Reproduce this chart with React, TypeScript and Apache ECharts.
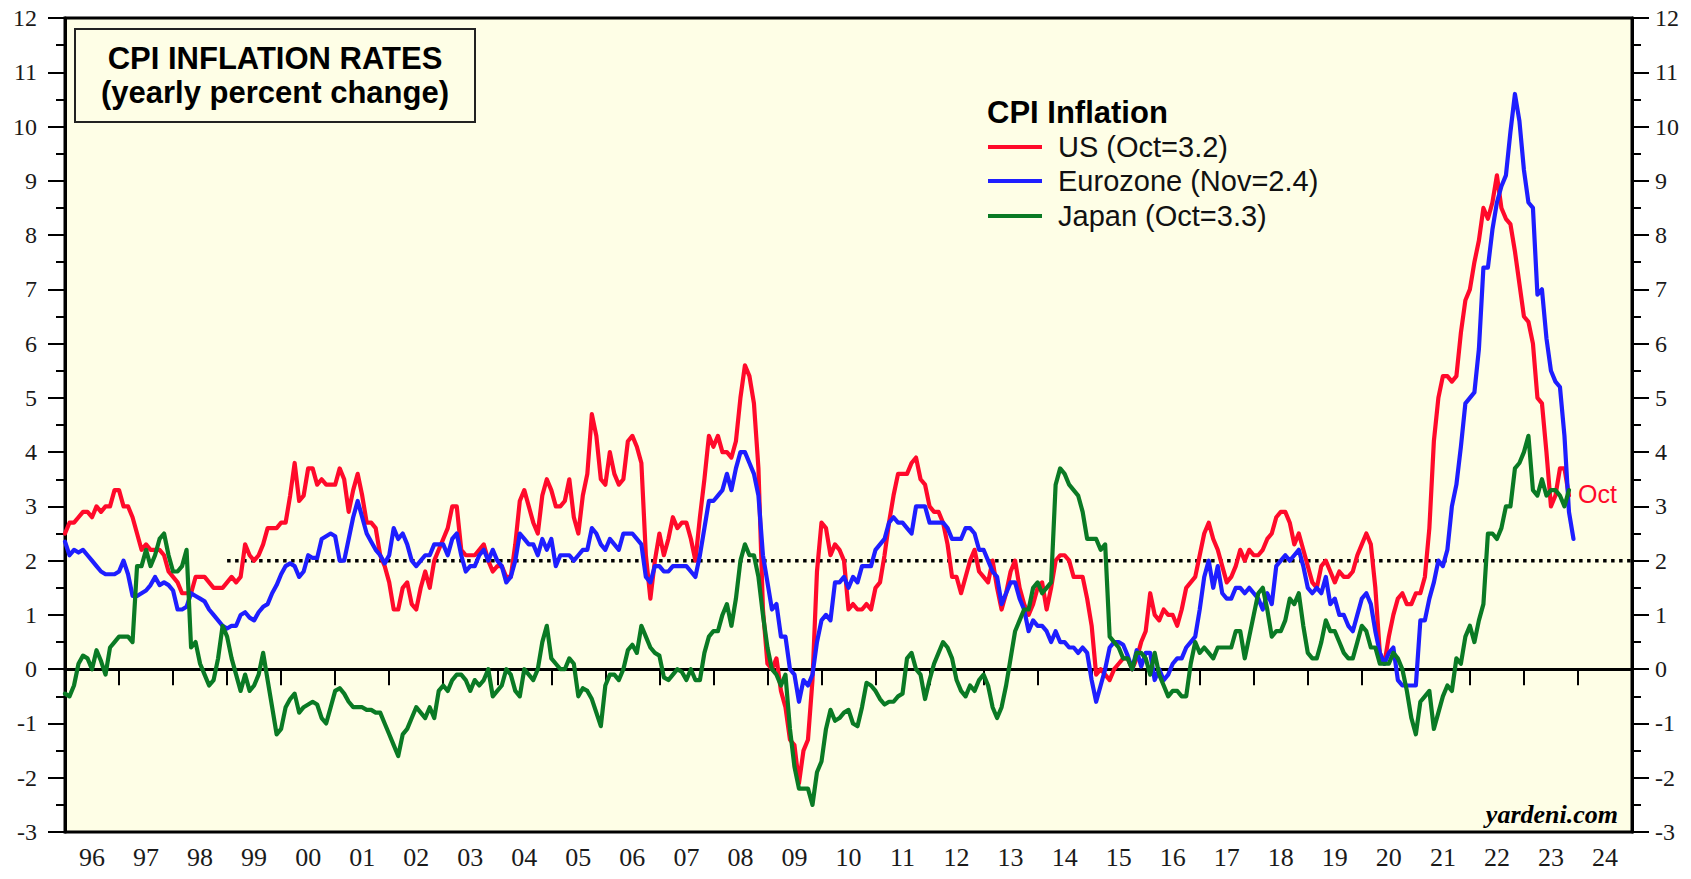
import React, { useEffect, useRef } from "react";
import * as echarts from "echarts";

// Monthly yearly % change; first value = Dec 1995, plotted at month end
const START_X = 1996;

const yearLabels = ["96","97","98","99","00","01","02","03","04","05","06","07","08","09","10","11","12","13","14","15","16","17","18","19","20","21","22","23","24"];

const usCpi = [
  2.5,
  2.7, 2.7, 2.8, 2.9, 2.9, 2.8, 3.0, 2.9, 3.0, 3.0, 3.3, 3.3,
  3.0, 3.0, 2.8, 2.5, 2.2, 2.3, 2.2, 2.2, 2.2, 2.1, 1.8, 1.7,
  1.6, 1.4, 1.4, 1.4, 1.7, 1.7, 1.7, 1.6, 1.5, 1.5, 1.5, 1.6,
  1.7, 1.6, 1.7, 2.3, 2.1, 2.0, 2.1, 2.3, 2.6, 2.6, 2.6, 2.7,
  2.7, 3.2, 3.8, 3.1, 3.2, 3.7, 3.7, 3.4, 3.5, 3.4, 3.4, 3.4,
  3.7, 3.5, 2.9, 3.3, 3.6, 3.2, 2.7, 2.7, 2.6, 2.1, 1.9, 1.6,
  1.1, 1.1, 1.5, 1.6, 1.2, 1.1, 1.5, 1.8, 1.5, 2.0, 2.2, 2.4,
  2.6, 3.0, 3.0, 2.2, 2.1, 2.1, 2.1, 2.2, 2.3, 2.0, 1.8, 1.9,
  1.9, 1.7, 1.7, 2.3, 3.1, 3.3, 3.0, 2.7, 2.5, 3.2, 3.5, 3.3,
  3.0, 3.0, 3.1, 3.5, 2.8, 2.5, 3.2, 3.6, 4.7, 4.3, 3.5, 3.4,
  4.0, 3.6, 3.4, 3.5, 4.2, 4.3, 4.1, 3.8, 2.1, 1.3, 2.0, 2.5,
  2.1, 2.4, 2.8, 2.6, 2.7, 2.7, 2.4, 2.0, 2.8, 3.5, 4.3, 4.1,
  4.3, 4.0, 4.0, 3.9, 4.2, 5.0, 5.6, 5.4, 4.9, 3.7, 1.1, 0.1,
  0.0, 0.2, -0.4, -0.7, -1.3, -1.4, -2.1, -1.5, -1.3, -0.2, 1.8, 2.7,
  2.6, 2.1, 2.3, 2.2, 2.0, 1.1, 1.2, 1.1, 1.1, 1.2, 1.1, 1.5,
  1.6, 2.1, 2.7, 3.2, 3.6, 3.6, 3.6, 3.8, 3.9, 3.5, 3.4, 3.0,
  2.9, 2.9, 2.7, 2.3, 1.7, 1.7, 1.4, 1.7, 2.0, 2.2, 1.8, 1.7,
  1.6, 2.0, 1.5, 1.1, 1.4, 1.8, 2.0, 1.5, 1.2, 1.0, 1.2, 1.5,
  1.6, 1.1, 1.5, 2.0, 2.1, 2.1, 2.0, 1.7, 1.7, 1.7, 1.3, 0.8,
  -0.1, 0.0, -0.1, -0.2, 0.0, 0.1, 0.2, 0.2, 0.0, 0.2, 0.5, 0.7,
  1.4, 1.0, 0.9, 1.1, 1.0, 1.0, 0.8, 1.1, 1.5, 1.6, 1.7, 2.1,
  2.5, 2.7, 2.4, 2.2, 1.9, 1.6, 1.7, 1.9, 2.2, 2.0, 2.2, 2.1,
  2.1, 2.2, 2.4, 2.5, 2.8, 2.9, 2.9, 2.7, 2.3, 2.5, 2.2, 1.9,
  1.6, 1.5, 1.9, 2.0, 1.8, 1.6, 1.8, 1.7, 1.7, 1.8, 2.1, 2.3,
  2.5, 2.3, 1.5, 0.3, 0.1, 0.6, 1.0, 1.3, 1.4, 1.2, 1.2, 1.4,
  1.4, 1.7, 2.6, 4.2, 5.0, 5.4, 5.4, 5.3, 5.4, 6.2, 6.8, 7.0,
  7.5, 7.9, 8.5, 8.3, 8.6, 9.1, 8.5, 8.3, 8.2, 7.7, 7.1, 6.5,
  6.4, 6.0, 5.0, 4.9, 4.0, 3.0, 3.2, 3.7, 3.7, 3.2,
];

const ezCpi = [
  2.35,
  2.1, 2.2, 2.15, 2.2, 2.1, 2.0, 1.9, 1.8, 1.75, 1.75, 1.75, 1.8,
  2.0, 1.75, 1.35, 1.35, 1.4, 1.45, 1.55, 1.7, 1.55, 1.6, 1.55, 1.45,
  1.1, 1.1, 1.15, 1.4, 1.35, 1.3, 1.25, 1.1, 1.0, 0.9, 0.8, 0.75,
  0.8, 0.8, 1.0, 1.05, 0.95, 0.9, 1.05, 1.15, 1.2, 1.4, 1.55, 1.75,
  1.9, 1.95, 1.9, 1.7, 1.8, 2.1, 2.05, 2.05, 2.4, 2.45, 2.5, 2.45,
  2.0, 2.0, 2.4, 2.8, 3.1, 2.8, 2.5, 2.35, 2.2, 2.1, 1.95, 2.1,
  2.6, 2.4, 2.5, 2.3, 2.0, 1.9, 2.0, 2.1, 2.1, 2.3, 2.3, 2.3,
  2.1, 2.4, 2.5, 2.1, 1.8, 1.9, 1.9, 2.1, 2.2, 2.0, 2.2, 2.0,
  1.9, 1.6, 1.7, 2.0, 2.5, 2.4, 2.3, 2.3, 2.1, 2.4, 2.2, 2.4,
  1.9, 2.1, 2.1, 2.1, 2.0, 2.1, 2.2, 2.2, 2.6, 2.5, 2.3, 2.2,
  2.4, 2.3, 2.2, 2.5, 2.5, 2.5, 2.4, 2.3, 1.7, 1.6, 1.9, 1.9,
  1.8, 1.8, 1.9, 1.9, 1.9, 1.9, 1.8, 1.7, 2.1, 2.6, 3.1, 3.1,
  3.2, 3.3, 3.6, 3.3, 3.7, 4.0, 4.0, 3.8, 3.6, 3.2, 2.1, 1.6,
  1.1, 1.2, 0.6, 0.6, 0.0, -0.1, -0.6, -0.2, -0.3, -0.1, 0.5, 0.9,
  1.0, 0.9, 1.6, 1.6, 1.7, 1.5, 1.7, 1.6, 1.9, 1.9, 1.9, 2.2,
  2.3, 2.4, 2.7, 2.8, 2.7, 2.7, 2.6, 2.5, 3.0, 3.0, 3.0, 2.7,
  2.7, 2.7, 2.7, 2.6, 2.4, 2.4, 2.4, 2.6, 2.6, 2.5, 2.2, 2.2,
  2.0, 1.8, 1.7, 1.2, 1.4, 1.6, 1.6, 1.3, 1.1, 0.7, 0.9, 0.8,
  0.8, 0.7, 0.5, 0.7, 0.5, 0.5, 0.4, 0.4, 0.3, 0.4, 0.3, -0.2,
  -0.6, -0.3, 0.0, 0.4, 0.5, 0.5, 0.45, 0.25, 0.0, 0.35, 0.05, 0.3,
  0.3, -0.2, 0.0, -0.2, -0.1, 0.1, 0.2, 0.2, 0.4, 0.5, 0.6, 1.1,
  1.7, 2.0, 1.5, 1.9, 1.4, 1.3, 1.3, 1.5, 1.5, 1.4, 1.5, 1.4,
  1.3, 1.1, 1.4, 1.2, 1.9, 2.0, 2.1, 2.0, 2.1, 2.2, 1.9, 1.5,
  1.4, 1.5, 1.4, 1.7, 1.2, 1.3, 1.0, 1.0, 0.8, 0.7, 1.0, 1.3,
  1.4, 1.2, 0.7, 0.3, 0.1, 0.3, 0.4, -0.2, -0.3, -0.3, -0.3, -0.3,
  0.9, 0.9, 1.3, 1.6, 2.0, 1.9, 2.2, 3.0, 3.4, 4.1, 4.9, 5.0,
  5.1, 5.9, 7.4, 7.4, 8.1, 8.6, 8.9, 9.1, 9.9, 10.6, 10.1, 9.2,
  8.6, 8.5, 6.9, 7.0, 6.1, 5.5, 5.3, 5.2, 4.3, 2.9, 2.4,
];

const jpCpi = [
  -0.45,
  -0.5, -0.3, 0.1, 0.25, 0.2, 0.0, 0.35, 0.15, -0.1, 0.4, 0.5, 0.6,
  0.6, 0.6, 0.5, 1.9, 1.9, 2.2, 1.9, 2.1, 2.4, 2.5, 2.1, 1.8,
  1.8, 1.9, 2.2, 0.4, 0.5, 0.1, -0.1, -0.3, -0.2, 0.2, 0.8, 0.6,
  0.2, -0.1, -0.4, -0.1, -0.4, -0.3, -0.1, 0.3, -0.2, -0.7, -1.2, -1.1,
  -0.7, -0.55, -0.45, -0.8, -0.7, -0.65, -0.6, -0.65, -0.9, -1.0, -0.7, -0.4,
  -0.35, -0.45, -0.6, -0.7, -0.7, -0.7, -0.75, -0.75, -0.8, -0.8, -1.0, -1.2,
  -1.4, -1.6, -1.2, -1.1, -0.9, -0.7, -0.8, -0.9, -0.7, -0.9, -0.4, -0.3,
  -0.4, -0.2, -0.1, -0.1, -0.2, -0.4, -0.2, -0.3, -0.2, 0.0, -0.5, -0.4,
  -0.3, 0.0, -0.1, -0.4, -0.5, 0.0, -0.1, -0.2, 0.0, 0.5, 0.8, 0.2,
  0.1, 0.0, 0.0, 0.2, 0.1, -0.5, -0.35, -0.4, -0.55, -0.8, -1.05, -0.3,
  -0.1, -0.1, -0.2, 0.0, 0.35, 0.45, 0.3, 0.8, 0.6, 0.4, 0.3, 0.25,
  -0.15, -0.2, -0.1, 0.0, -0.05, -0.2, 0.0, -0.2, -0.2, 0.3, 0.6, 0.7,
  0.7, 1.0, 1.2, 0.8, 1.3, 2.0, 2.3, 2.1, 2.1, 1.7, 1.0, 0.4,
  0.0, -0.1, -0.3, -0.1, -1.1, -1.8, -2.2, -2.2, -2.2, -2.5, -1.9, -1.7,
  -1.1, -0.75, -0.95, -0.9, -0.8, -0.75, -1.0, -1.05, -0.7, -0.25, -0.3, -0.4,
  -0.55, -0.65, -0.6, -0.6, -0.5, -0.45, 0.2, 0.3, 0.0, -0.1, -0.55, -0.2,
  0.1, 0.3, 0.5, 0.4, 0.2, -0.2, -0.4, -0.5, -0.3, -0.4, -0.2, -0.1,
  -0.3, -0.7, -0.9, -0.7, -0.3, 0.2, 0.7, 0.9, 1.1, 1.1, 1.5, 1.6,
  1.4, 1.5, 1.6, 3.4, 3.7, 3.6, 3.4, 3.3, 3.2, 2.9, 2.4, 2.4,
  2.4, 2.2, 2.3, 0.6, 0.5, 0.4, 0.2, 0.2, 0.0, 0.3, 0.3, 0.2,
  -0.1, 0.3, -0.1, -0.3, -0.5, -0.4, -0.4, -0.5, -0.5, 0.1, 0.5, 0.3,
  0.4, 0.3, 0.2, 0.4, 0.4, 0.4, 0.4, 0.7, 0.7, 0.2, 0.6, 1.0,
  1.4, 1.5, 1.1, 0.6, 0.7, 0.7, 0.9, 1.3, 1.2, 1.4, 0.8, 0.3,
  0.2, 0.2, 0.5, 0.9, 0.7, 0.7, 0.5, 0.3, 0.2, 0.2, 0.5, 0.8,
  0.7, 0.4, 0.4, 0.1, 0.1, 0.1, 0.3, 0.2, 0.0, -0.4, -0.9, -1.2,
  -0.6, -0.5, -0.4, -1.1, -0.8, -0.5, -0.3, -0.4, 0.2, 0.1, 0.6, 0.8,
  0.5, 0.9, 1.2, 2.5, 2.5, 2.4, 2.6, 3.0, 3.0, 3.7, 3.8, 4.0,
  4.3, 3.3, 3.2, 3.5, 3.2, 3.3, 3.3, 3.2, 3.0, 3.3,
];

const targetLine = [[1999, 2], [2025, 2]];
const zeroLine = [[1996, 0], [2025, 0]];

const seriesNames = ["US (Oct=3.2)", "Eurozone (Nov=2.4)", "Japan (Oct=3.3)"];

const RED = "#ff0a2a";
const BLUE = "#1e1eff";
const GREEN = "#0a7a24";
const BG = "#fefee6";
const SANS = '"Liberation Sans", Arial, sans-serif';
const SERIF = '"Liberation Serif", "Times New Roman", serif';

const toPoints = (vals: number[]) => vals.map((v, i) => [START_X + i / 12, v]);

function txt(x: number, y: number, text: string, font: string, fill: string, align = "left") {
  return {
    type: "text",
    x,
    y,
    z: 100,
    style: {
      text,
      font,
      fill,
      align,
      verticalAlign: "middle",
      textAlign: align,
      textVerticalAlign: "middle",
    },
  };
}

export default function App() {
  const ref = useRef<HTMLDivElement>(null);

  useEffect(() => {
    document.body.style.margin = "0";
    const chart = echarts.init(ref.current!, undefined, { renderer: "svg" });

    const yAxisBase = {
      type: "value",
      min: -3,
      max: 12,
      interval: 1,
      axisLine: { show: true, lineStyle: { color: "#000", width: 3 } },
      axisTick: { show: true, length: 17, lineStyle: { color: "#000", width: 2 } },
      minorTick: { show: true, splitNumber: 2, length: 9, lineStyle: { color: "#000", width: 2 } },
      splitLine: { show: false },
      minorSplitLine: { show: false },
    };

    const legendItems = [
      { name: seriesNames[0], color: RED, y: 147 },
      { name: seriesNames[1], color: BLUE, y: 181 },
      { name: seriesNames[2], color: GREEN, y: 216 },
    ];

    const graphics: any[] = [
      {
        type: "rect",
        z: 100,
        shape: { x: 75, y: 29, width: 400, height: 93 },
        style: { fill: BG, stroke: "#222", lineWidth: 2 },
      },
      txt(275, 58, "CPI INFLATION RATES", `bold 31px ${SANS}`, "#000", "center"),
      txt(275, 92, "(yearly percent change)", `bold 31px ${SANS}`, "#000", "center"),
      txt(987, 112, "CPI Inflation", `bold 31px ${SANS}`, "#000", "left"),
      txt(1618, 814, "yardeni.com", `italic bold 26px ${SERIF}`, "#000", "right"),
      txt(1578, 494, "Oct", `25px ${SANS}`, RED, "left"),
    ];
    legendItems.forEach((it) => {
      graphics.push({
        type: "line",
        z: 100,
        shape: { x1: 988, y1: it.y, x2: 1042, y2: it.y },
        style: { stroke: it.color, lineWidth: 4 },
      });
      graphics.push(txt(1058, it.y, it.name, `29px ${SANS}`, "#111", "left"));
    });

    const lineSeries = (name: string, data: number[][], color: string) => ({
      name,
      type: "line",
      xAxisIndex: 1,
      yAxisIndex: 0,
      data,
      showSymbol: false,
      symbol: "none",
      lineStyle: { color, width: 4.2, join: "round", cap: "round" },
      itemStyle: { color },
      silent: true,
    });

    chart.setOption({
      animation: false,
      backgroundColor: "#ffffff",
      grid: {
        left: 65,
        right: 59,
        top: 18,
        bottom: 47,
        show: true,
        backgroundColor: BG,
        borderColor: "#000",
        borderWidth: 3,
      },
      xAxis: [
        {
          type: "category",
          data: yearLabels,
          boundaryGap: true,
          position: "bottom",
          axisLine: { show: true, lineStyle: { color: "#000", width: 3 } },
          axisTick: { show: true, interval: 0, length: 16, lineStyle: { color: "#000", width: 2 } },
          axisLabel: { interval: 0, fontFamily: SERIF, fontSize: 26, color: "#1a1a1a", margin: 12 },
          splitLine: { show: false },
        },
        { type: "value", min: 1996, max: 2025, show: false, splitLine: { show: false } },
      ],
      yAxis: [
        {
          ...yAxisBase,
          position: "left",
          axisLabel: { fontFamily: SERIF, fontSize: 24, color: "#1a1a1a", margin: 28 },
        },
        {
          ...yAxisBase,
          position: "right",
          axisLabel: { fontFamily: SERIF, fontSize: 24, color: "#1a1a1a", margin: 23 },
        },
      ],
      series: [
        {
          name: "zero",
          type: "line",
          xAxisIndex: 1,
          yAxisIndex: 0,
          data: zeroLine,
          symbol: "none",
          lineStyle: { color: "#000", width: 1.5 },
          silent: true,
        },
        {
          name: "target",
          type: "line",
          xAxisIndex: 1,
          yAxisIndex: 0,
          data: targetLine,
          symbol: "none",
          lineStyle: { color: "#000", width: 3.5, type: [3.5, 4.5] },
          silent: true,
        },
        lineSeries(seriesNames[0], toPoints(usCpi), RED),
        lineSeries(seriesNames[1], toPoints(ezCpi), BLUE),
        lineSeries(seriesNames[2], toPoints(jpCpi), GREEN),
      ],
      graphic: graphics,
    });

    return () => chart.dispose();
  }, []);

  return <div ref={ref} style={{ width: 1691, height: 879 }} />;
}
